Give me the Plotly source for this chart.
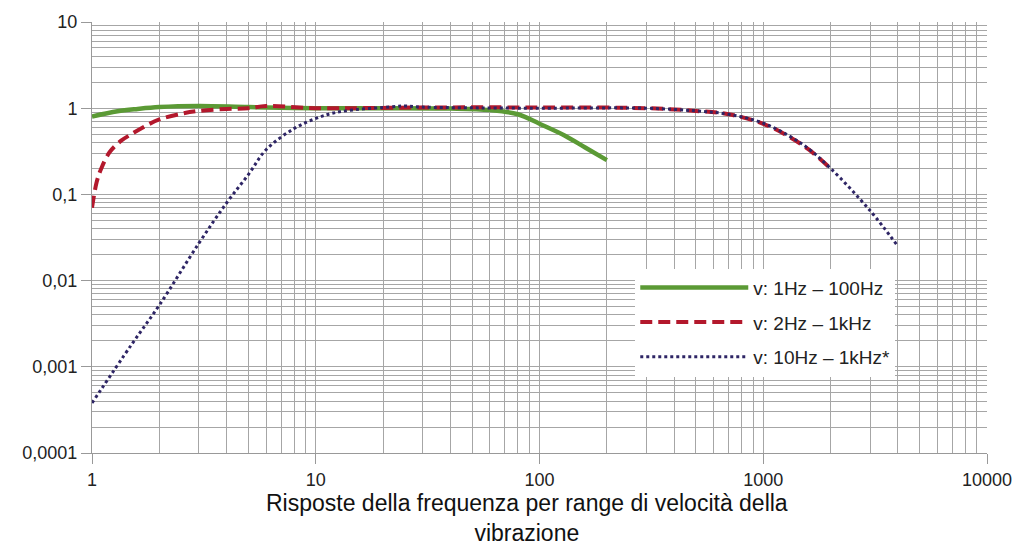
import plotly.graph_objects as go

# Green: v: 1Hz – 100Hz
green_f = [1, 1.3, 1.6, 2, 3, 5, 10, 20, 40, 60, 80, 100, 130, 160, 200]
green_v = [0.80, 0.92, 0.98, 1.03, 1.06, 1.03, 1.0, 1.0, 0.99, 0.95, 0.85, 0.66, 0.48, 0.35, 0.25]

# Red dashed: v: 2Hz – 1kHz
red_f = [1, 1.05, 1.1, 1.2, 1.35, 1.5, 1.75, 2, 2.5, 3, 4, 5, 6, 10, 30, 100, 300, 500, 700, 1000, 1300, 1600, 2000]
red_v = [0.07, 0.14, 0.2, 0.31, 0.42, 0.5, 0.63, 0.74, 0.86, 0.93, 0.98, 1.0, 1.06, 1.0, 1.02, 1.02, 1.0, 0.93, 0.85, 0.66, 0.47, 0.33, 0.2]

# Blue dotted: v: 10Hz – 1kHz*
blue_f = [1, 1.5, 2, 3, 4, 5, 6, 8, 10, 12, 15, 20, 25, 30, 50, 100, 300, 500, 700, 1000, 1500, 2000, 3000, 4000]
blue_v = [0.00038, 0.0018, 0.0052, 0.027, 0.08, 0.17, 0.33, 0.58, 0.76, 0.88, 0.96, 1.02, 1.06, 1.03, 1.01, 1.0, 1.0, 0.93, 0.85, 0.67, 0.38, 0.2, 0.065, 0.025]

x_tickvals = [1, 10, 100, 1000, 10000]
x_ticktext = ["1", "10", "100", "1000", "10000"]
y_tickvals = [0.0001, 0.001, 0.01, 0.1, 1, 10]
y_ticktext = ["0,0001", "0,001", "0,01", "0,1", "1", "10"]

names = ["v: 1Hz – 100Hz", "v: 2Hz – 1kHz", "v: 10Hz – 1kHz*"]
caption = "Risposte della frequenza per range di velocità della<br>vibrazione"

FONT = "Liberation Sans, Arial"

fig = go.Figure()
fig.add_trace(go.Scatter(x=green_f, y=green_v, mode="lines", name=names[0], legendgroup="g",
                         line=dict(color="#5b9a35", width=4.5), line_shape="spline"))
fig.add_trace(go.Scatter(x=red_f, y=red_v, mode="lines", name=names[1], legendgroup="r",
                         line=dict(color="#b3182c", width=4, dash="12px,6px"), line_shape="spline"))
fig.add_trace(go.Scatter(x=blue_f, y=blue_v, mode="lines", name=names[2], legendgroup="b",
                         line=dict(color="#2e2565", width=3, dash="dot"), line_shape="spline"))

gridc = "#a6a6a6"
axc = "#999999"
fig.update_xaxes(type="log", range=[0, 4], tickvals=x_tickvals, ticktext=x_ticktext,
                 showgrid=True, gridcolor=gridc, gridwidth=1,
                 showline=True, linecolor=axc, ticks="outside", ticklen=10, tickcolor=axc,
                 minor=dict(dtick="D1", showgrid=True, gridcolor=gridc, gridwidth=1),
                 tickfont=dict(family=FONT, size=18, color="#222"),
                 zeroline=False)
fig.update_yaxes(type="log", range=[-4, 1], tickvals=y_tickvals, ticktext=y_ticktext,
                 showgrid=True, gridcolor=gridc, gridwidth=1,
                 showline=True, linecolor=axc, ticks="outside", ticklen=10, tickcolor=axc,
                 minor=dict(dtick="D1", showgrid=True, gridcolor=gridc, gridwidth=1),
                 tickfont=dict(family=FONT, size=18, color="#222"),
                 zeroline=False)

fig.add_annotation(text=caption, xref="paper", yref="paper", x=0.4856, y=-0.150,
                   xanchor="center", yanchor="middle", showarrow=False,
                   font=dict(family=FONT, size=23, color="#111"))

fig.update_layout(
    width=1024, height=558,
    margin=dict(l=92, r=32, t=20, b=105),
    paper_bgcolor="white", plot_bgcolor="white",
    legend=dict(x=0.607, y=0.428, xanchor="left", yanchor="top",
                bgcolor="white", borderwidth=0, itemwidth=108,
                traceorder="grouped", tracegroupgap=7,
                font=dict(family=FONT, size=19, color="#222")),
    showlegend=True,
)

fig.write_html("out.html")
